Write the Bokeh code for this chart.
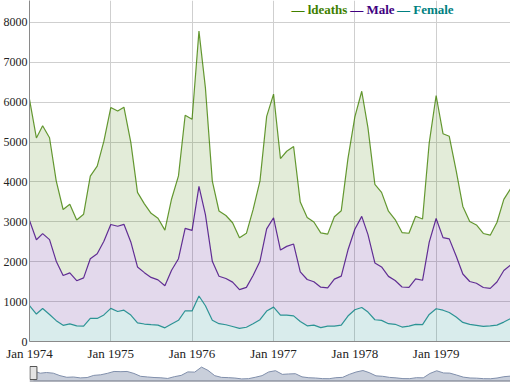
import pandas as pd
from bokeh.plotting import figure
from bokeh.models import (Range1d, FixedTicker, DatetimeTickFormatter, Label, Span,
                          ColumnDataSource)
from bokeh.layouts import column
from bokeh.embed import file_html
from bokeh.resources import INLINE

# ---- data (UK lung deaths, monthly 1974-1979) ----
months = pd.date_range("1974-01-01", periods=72, freq="MS")
ldeaths = [3035, 2552, 2704, 2554, 2014, 1655, 1721, 1524, 1596, 2074, 2199, 2512,
           2933, 2889, 2938, 2497, 1870, 1726, 1607, 1545, 1396, 1787, 2076, 2837,
           2787, 3891, 3179, 2011, 1636, 1580, 1489, 1300, 1356, 1653, 2013, 2823,
           3102, 2294, 2385, 2444, 1748, 1554, 1498, 1361, 1346, 1564, 1640, 2293,
           2815, 3137, 2679, 1969, 1870, 1633, 1529, 1366, 1357, 1570, 1535, 2491,
           3084, 2605, 2573, 2143, 1693, 1504, 1461, 1354, 1333, 1492, 1781, 1915]
mdeaths = [2134, 1863, 1877, 1877, 1492, 1249, 1280, 1131, 1209, 1492, 1621, 1846,
           2103, 2137, 2153, 1833, 1403, 1288, 1186, 1133, 1053, 1347, 1545, 2066,
           2020, 2750, 2283, 1479, 1189, 1160, 1113, 970, 999, 1208, 1467, 2059,
           2240, 1634, 1722, 1801, 1246, 1162, 1087, 1013, 959, 1179, 1229, 1655,
           2019, 2284, 1942, 1423, 1340, 1187, 1098, 1004, 970, 1140, 1110, 1812,
           2263, 1820, 1846, 1531, 1215, 1075, 1056, 975, 940, 1081, 1294, 1341]
fdeaths = [901, 689, 827, 677, 522, 406, 441, 393, 387, 582, 578, 666,
           830, 752, 785, 664, 467, 438, 421, 412, 343, 440, 531, 771,
           767, 1141, 896, 532, 447, 420, 376, 330, 357, 445, 546, 764,
           862, 660, 663, 643, 502, 392, 411, 348, 387, 385, 411, 638,
           796, 853, 737, 546, 530, 446, 431, 362, 387, 430, 425, 679,
           821, 785, 727, 612, 478, 429, 405, 379, 393, 411, 487, 574]
series_labels = ["ldeaths", "Male", "Female"]
y_ticks = [0, 1000, 2000, 3000, 4000, 5000, 6000, 7000, 8000]
tick_years = [1974, 1975, 1976, 1977, 1978, 1979]

# ---- style ----
GREEN, PURPLE, TEAL = "rgb(64,128,0)", "rgb(64,0,128)", "rgb(0,128,128)"
FONT = "Liberation Serif"
FRAME_L, FRAME_W, FRAME_H = 27, 483, 342
Y_MAX = 8550

avg = [(a + b + c) / 3 for a, b, c in zip(ldeaths, mdeaths, fdeaths)]
src = ColumnDataSource(dict(date=months, ldeaths=ldeaths, Male=mdeaths,
                            Female=fdeaths, avg=avg))

x_start, x_end = months[0], months[-1]
xr = Range1d(x_start, x_end)
yr = Range1d(0, Y_MAX)

p = figure(width=FRAME_L + FRAME_W, height=FRAME_H + 21, x_axis_type="datetime",
           x_range=xr, y_range=yr, output_backend="svg", toolbar_location=None,
           min_border_left=FRAME_L, min_border_right=0, min_border_top=0,
           min_border_bottom=21)
p.outline_line_color = None
p.background_fill_color = "white"

stack = ["Female", "Male", "ldeaths"]
p.varea_stack(stackers=stack, x="date", color=[TEAL, PURPLE, GREEN],
              fill_alpha=0.15, source=src)
p.vline_stack(stackers=stack, x="date", color=[TEAL, PURPLE, GREEN],
              line_width=1.2, line_alpha=0.8, source=src)

xticks = [pd.Timestamp(f"{y}-01-01").timestamp() * 1000 for y in tick_years]
p.xaxis.ticker = FixedTicker(ticks=xticks)
fmt = "%b %Y"
p.xaxis.formatter = DatetimeTickFormatter(years=fmt, months=fmt, days=fmt, hours=fmt,
                                          hourmin=fmt, minutes=fmt, minsec=fmt,
                                          seconds=fmt, milliseconds=fmt,
                                          microseconds=fmt)
p.yaxis.ticker = FixedTicker(ticks=y_ticks)
for ax in (p.xaxis, p.yaxis):
    ax.major_tick_out = 0
    ax.major_tick_in = 0
    ax.minor_tick_line_color = None
    ax.axis_line_color = "#8a8a8a"
    ax.major_label_text_font = FONT
    ax.major_label_text_color = "#222222"
p.xaxis.major_label_text_font_size = "13px"
p.yaxis.major_label_text_font_size = "12px"
p.xaxis.major_label_standoff = 4
p.yaxis.major_label_standoff = 2
p.grid.grid_line_color = "#cfcfcf"
p.grid.grid_line_width = 1

# ---- legend (coloured bold text, top right) ----
span_ms = (x_end - x_start)


def px_to_date(px):
    return x_start + span_ms * ((px - FRAME_L) / FRAME_W)


def py_to_val(py):
    return Y_MAX * (1 - py / FRAME_H)


for txt, col, px in [("\u2014 " + series_labels[0], GREEN, 290),
                     ("\u2014 " + series_labels[1], PURPLE, 349),
                     ("\u2014 " + series_labels[2], TEAL, 396)]:
    p.add_layout(Label(x=px_to_date(px), y=py_to_val(9.5), text=txt,
                       text_color=col, text_font=FONT, text_font_size="13px",
                       text_font_style="bold", text_baseline="middle",
                       text_align="left"))

# ---- range selector strip ----
pad_px = 4
mini_xr = Range1d(x_start - span_ms * (pad_px / FRAME_W), x_end)
lo_a, hi_a = min(avg), max(avg)
rng = hi_a - lo_a
mini_yr = Range1d(lo_a - 0.22 * rng, hi_a + 0.22 * rng)
mini = figure(width=FRAME_L + FRAME_W, height=19, x_axis_type="datetime",
              x_range=mini_xr, y_range=mini_yr, output_backend="svg",
              toolbar_location=None, min_border_left=FRAME_L - pad_px,
              min_border_right=0, min_border_top=1, min_border_bottom=1)
mini.axis.visible = False
mini.grid.visible = False
mini.outline_line_color = None
mini.varea(x="date", y1=mini_yr.start, y2="avg", source=src,
           fill_color="#c9cfdb")
mini.line(x="date", y="avg", source=src, line_color="#808FAB", line_width=1)
mini.add_layout(Span(location=mini_yr.start + 0.02 * rng, dimension="width",
                     line_color="#6f7482", line_width=1.5))
mini.rect(x=[months[0]], y=[(mini_yr.start + mini_yr.end) / 2], width=7, height=13,
          width_units="screen", height_units="screen", fill_color="#e4e4e4",
          line_color="#555555", line_width=1)

layout = column(p, mini, spacing=0)

open("out.html", "w").write(file_html(layout, INLINE))
